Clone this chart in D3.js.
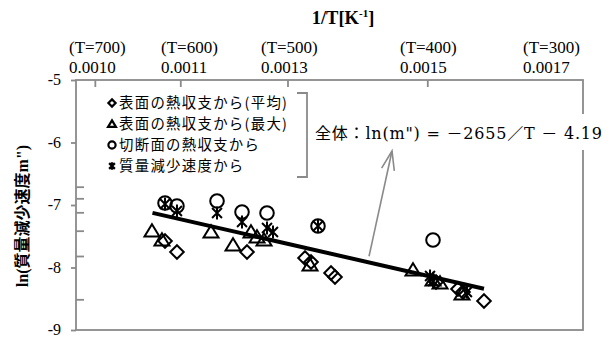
<!DOCTYPE html>
<html><head><meta charset="utf-8">
<script src="https://cdn.jsdelivr.net/npm/d3@7"></script>
<style>
body{margin:0;background:#fff}
svg{display:block}
</style></head><body>
<svg id="c" width="611" height="338"></svg>
<script>
// ---- data ----
const xTitle = "1/T[K";
const xTitleSup = "-1";
const xTitleEnd = "]";
const yTitle = "ln(質量減少速度m\")";
const topTickValues = [0.001026, 0.001144, 0.001292, 0.001485];
const topLabelPos = [0.0009903, 0.0011174, 0.0012554, 0.0014473, 0.0016172];
const topLabelT = ["(T=700)", "(T=600)", "(T=500)", "(T=400)", "(T=300)"];
const topLabelNum = ["0.0010", "0.0011", "0.0013", "0.0015", "0.0017"];
const yTicks = [-5, -6, -7, -8, -9];
const yInnerTicks = [-6.707, -6.893, -7.117, -7.411, -7.816, -8.509];
const seriesNames = ["表面の熱収支から(平均)", "表面の熱収支から(最大)", "切断面の熱収支から", "質量減少速度から"];
const seriesSymbols = ["diamond", "triangle", "circle", "star"];
const avgPts = [[0.0011229,-7.576],[0.0011394,-7.752],[0.0012361,-7.752],[0.0013162,-7.848],[0.0013245,-7.912],[0.0013521,-8.088],[0.0013576,-8.152],[0.0014971,-8.232],[0.0015274,-8.344],[0.0015343,-8.392],[0.0015633,-8.536]];
const maxPts = [[0.0011049,-7.416],[0.0011187,-7.560],[0.0011864,-7.432],[0.0012168,-7.640],[0.0012416,-7.432],[0.0012499,-7.512],[0.0012596,-7.560],[0.0013231,-7.960],[0.0014653,-8.040],[0.0014929,-8.200],[0.0015026,-8.248],[0.0015329,-8.424]];
const cutPts = [[0.0011229,-6.968],[0.0011394,-7.016],[0.0011947,-6.936],[0.0012292,-7.112],[0.0012637,-7.128],[0.0013341,-7.336],[0.0014929,-7.560]];
const massPts = [[0.0011229,-6.984],[0.0011394,-7.096],[0.0011947,-7.128],[0.0012292,-7.272],[0.0012637,-7.368],[0.0012720,-7.432],[0.0013341,-7.336],[0.0014888,-8.136],[0.0014929,-8.216],[0.0015398,-8.392]];
const fitSlope = -2655, fitIntercept = -4.19;
const fitRange = [0.0011056, 0.0015633];
const fitLabel = "全体：ln(m\") = －2655／T － 4.19";
const arrowFrom = [0.0014046, -7.82];
const arrowTo = [0.0014363, -6.136];

// ---- layout ----
const svg = d3.select("#c");
const gray = "#8a8a8a";
const serif = "'Liberation Serif','Noto Sans CJK JP',serif";
const serifWide = "'DejaVu Serif','Noto Sans CJK JP',serif";
const cjk = "'Noto Sans CJK JP','Liberation Serif',sans-serif";
const x = d3.scaleLinear().domain([0.0010, 0.0017]).range([76, 583]);
const y = d3.scaleLinear().domain([-9, -5]).range([330, 80]);

// frame
svg.append("rect").attr("x", x.range()[0]).attr("y", y.range()[1])
  .attr("width", x.range()[1]-x.range()[0]).attr("height", y.range()[0]-y.range()[1])
  .attr("fill", "none").attr("stroke", gray).attr("stroke-width", 1.8);

// top inner ticks
const gTop = svg.append("g").attr("transform", `translate(0,${y.range()[1]})`)
  .call(d3.axisTop(x).tickValues(topTickValues).tickSize(-7).tickFormat(""));
gTop.select(".domain").remove();
gTop.selectAll("line").attr("stroke", gray).attr("stroke-width", 1.8);

// left axis
const gLeft = svg.append("g").attr("transform", `translate(${x.range()[0]},0)`)
  .call(d3.axisLeft(y).tickValues(yTicks).tickSize(5).tickPadding(10).tickFormat(d => String(d)));
gLeft.select(".domain").remove();
gLeft.selectAll("line").attr("stroke", gray).attr("stroke-width", 1.8);
gLeft.selectAll("text").attr("font-family", serif).attr("font-size", 16).attr("fill", "#000").attr("dy", "0.3em");
const gLeftIn = svg.append("g").attr("transform", `translate(${x.range()[0]},0)`)
  .call(d3.axisLeft(y).tickValues(yInnerTicks).tickSize(-8).tickFormat(""));
gLeftIn.select(".domain").remove();
gLeftIn.selectAll("line").attr("stroke", gray).attr("stroke-width", 1.8);

// top labels
topLabelPos.forEach((p, i) => {
  svg.append("text").attr("x", x(p)).attr("y", 53).attr("font-family", serif)
    .attr("font-size", 17).text(topLabelT[i]);
  svg.append("text").attr("x", x(p)).attr("y", 73).attr("font-family", serif)
    .attr("font-size", 17).text(topLabelNum[i]);
});
const tt = svg.append("text").attr("x", 343).attr("y", 24).attr("text-anchor", "middle")
  .attr("font-family", serif).attr("font-size", 18.5).attr("font-weight", "bold");
tt.append("tspan").text(xTitle);
tt.append("tspan").attr("font-size", 11).attr("dy", -7).text(xTitleSup);
tt.append("tspan").attr("dy", 7).text(xTitleEnd);

// y title
svg.append("text").attr("transform", "translate(28,216) rotate(-90)").attr("text-anchor", "middle")
  .attr("font-family", serif).attr("font-size", 16).attr("font-weight", "bold").text(yTitle);

// symbols
function sym(type, s) {
  const p = d3.path();
  if (type === "diamond") { p.moveTo(0,-s); p.lineTo(s,0); p.lineTo(0,s); p.lineTo(-s,0); p.closePath(); }
  else if (type === "triangle") { p.moveTo(0,-s); p.lineTo(s*1.1,s*0.8); p.lineTo(-s*1.1,s*0.8); p.closePath(); }
  else if (type === "circle") { p.arc(0,0,s,0,2*Math.PI); p.closePath(); }
  else { const d = s*0.8; p.moveTo(-d,-d); p.lineTo(d,d); p.moveTo(-d,d); p.lineTo(d,-d); p.moveTo(0,-s*1.05); p.lineTo(0,s*1.05); }
  return p.toString();
}
const sizes = {diamond: 6.8, triangle: 6.8, circle: 6.8, star: 6.2};

// fit line
svg.append("line").attr("x1", x(fitRange[0])).attr("y1", y(fitSlope*fitRange[0]+fitIntercept))
  .attr("x2", x(fitRange[1])).attr("y2", y(fitSlope*fitRange[1]+fitIntercept))
  .attr("stroke", "#000").attr("stroke-width", 4);

const allSeries = [avgPts, maxPts, cutPts, massPts];
allSeries.forEach((pts, i) => {
  svg.append("g").selectAll("path").data(pts).join("path")
    .attr("transform", d => `translate(${x(d[0])},${y(d[1])})`)
    .attr("d", sym(seriesSymbols[i], sizes[seriesSymbols[i]]))
    .attr("fill", "none").attr("stroke", "#000").attr("stroke-width", 2);
});

// legend
const legY = [103, 124, 145, 166];
seriesNames.forEach((n, i) => {
  svg.append("path").attr("transform", `translate(112,${legY[i]})`)
    .attr("d", sym(seriesSymbols[i], 3.6)).attr("fill", "none").attr("stroke", "#000").attr("stroke-width", 2.2);
  svg.append("text").attr("x", 119).attr("y", legY[i]+5.2).attr("font-family", cjk)
    .attr("font-size", 14.4).attr("letter-spacing", 1.3).text(n);
});
svg.append("path").attr("d", "M297,93H307V177H297").attr("fill", "none").attr("stroke", gray).attr("stroke-width", 1.8);

// annotation
svg.append("rect").attr("x", 312).attr("y", 114).attr("width", 296).attr("height", 36).attr("fill", "#fff");
svg.append("text").attr("x", 315).attr("y", 139).attr("font-family", serifWide).attr("font-size", 16)
  .attr("textLength", 287).attr("lengthAdjust", "spacing").text(fitLabel);
const ax1 = x(arrowFrom[0]), ay1 = y(arrowFrom[1]), ax2 = x(arrowTo[0]), ay2 = y(arrowTo[1]);
svg.append("line").attr("x1", ax1).attr("y1", ay1).attr("x2", ax2).attr("y2", ay2).attr("stroke", gray).attr("stroke-width", 1.6);
const ang = Math.atan2(ay1-ay2, ax1-ax2);
const hl = 20, ha = 0.33;
svg.append("path").attr("d", `M${ax2+hl*Math.cos(ang-ha)},${ay2+hl*Math.sin(ang-ha)}L${ax2},${ay2}L${ax2+hl*Math.cos(ang+ha)},${ay2+hl*Math.sin(ang+ha)}`)
  .attr("fill", "none").attr("stroke", gray).attr("stroke-width", 1.6);
</script></body></html>
